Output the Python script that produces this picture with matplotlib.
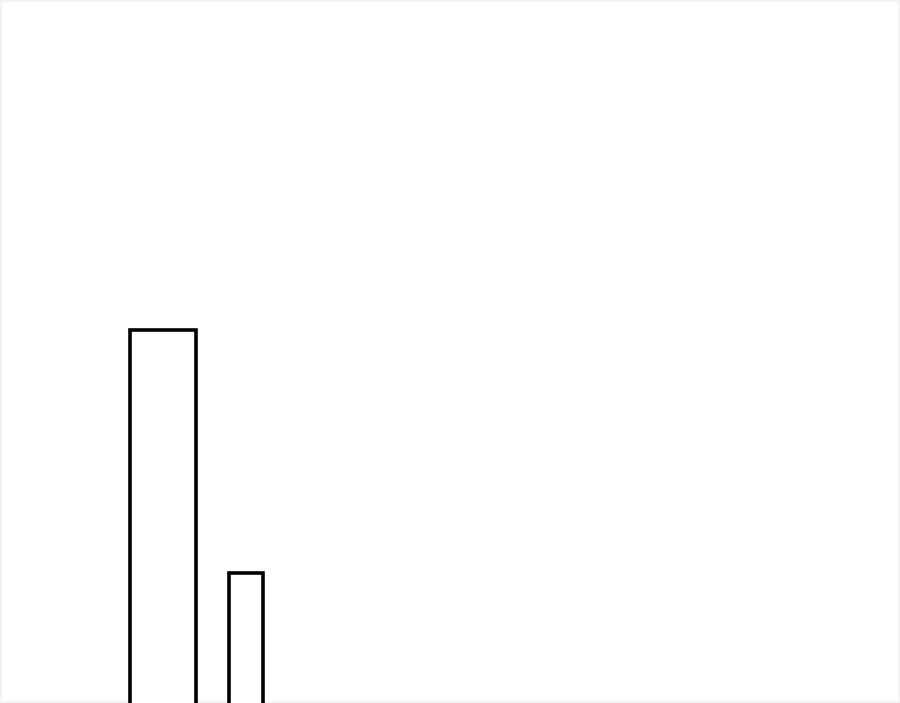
import matplotlib.pyplot as plt

# Two outlined bars, cropped at the bottom of the frame
categories = ["A", "B"]
values = [8.0, 3.5]
bar_widths = [0.79, 0.41]

fig = plt.figure(figsize=(9, 7.03), dpi=100)
fig.patch.set_facecolor("white")
fig.patch.set_edgecolor("#f2f2f2")
fig.patch.set_linewidth(1.5)

ax = fig.add_axes([0, 0, 1, 1])
x = list(range(len(categories)))
ax.bar(x, values, width=bar_widths, color="white", edgecolor="black", linewidth=2.6)

ax.set_xlim(-1.96, 8.88)
ax.set_ylim(1.09, 14.11)
ax.axis("off")

fig.savefig("out.png", dpi=100, facecolor=fig.get_facecolor(), edgecolor=fig.get_edgecolor())
